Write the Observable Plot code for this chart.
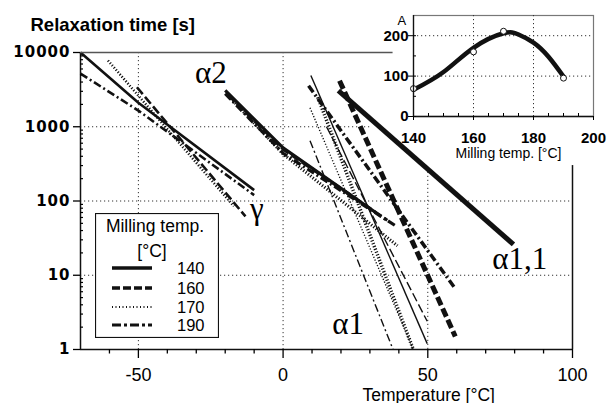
<!DOCTYPE html>
<html><head><meta charset="utf-8">
<script src="https://cdn.jsdelivr.net/npm/d3@7"></script>
<script src="https://cdn.jsdelivr.net/npm/@observablehq/plot@0.6"></script>
<style>
body{margin:0;background:#fff;}
#wrap{position:relative;width:608px;height:403px;overflow:hidden;font-family:Arial,"Liberation Sans",sans-serif;background:#fff;}
#main,#inset,#legend{position:absolute;}
#main{left:0;top:0;}
#inset{left:380px;top:0;}
#legend{left:95px;top:213px;}
#main g[aria-label="y-axis tick label"]{letter-spacing:1px;}
</style></head><body>
<div id="wrap"><div id="main"></div><div id="inset"></div><div id="legend"></div></div>
<script>
// ---- main chart data: [temperature °C, relaxation time s] ----
const gamma140 = [[-70,10000],[-50,2100],[-10,140]];
const gamma160 = [[-50.5,3400],[-13,62]];
const gamma170 = [[-60.5,7800],[-17,85]];
const gamma190 = [[-70,5200],[-50,1650],[-10,120]];

const alpha2_140 = [[-20,3100],[0,520],[32,70]];
const alpha2_160 = [[-19,2700],[0,500],[36,55]];
const alpha2_170 = [[-18,2400],[0,430],[39.5,25]];
const alpha2_190 = [[-20,2800],[0,440],[39,46]];

const alpha1_140 = [[9.6,4900],[49.8,1.2]];
const alpha1_160 = [[15,1000],[49.8,2.4]];
const alpha1_170 = [[9.3,1800],[45,1]];
const alpha1_190 = [[9.3,650],[38,1]];

const alpha11_140 = [[19.1,3060],[79.6,26]];
const alpha11_160 = [[19.5,4170],[59.5,1.5]];
const alpha11_170 = [[12,2500],[45,1]];
const alpha11_190 = [[8.8,3560],[59.5,6.6]];

const labelText = ["α2","γ","α1","α1,1"];
const labelT = [-30.4,-11.4,17,72.3];
const labelTau = [3940,57,1.64,12];

const xTicks = [-50,0,50,100];
const yTicks = [1,10,100,1000,10000];

// ---- inset data ----
const insetMilling = [140,160,170,190];
const insetA = [69,160,211,95];
const curveMilling = [140,150,160,170,175,180,185,190];
const curveA = [66,110,170,206,203,183,148,99];
const insetXTicks = [140,160,180,200];
const insetYTicks = [0,100,200];

// ---- legend ----
const legendTemps = ["140","160","170","190"];

// ---- styles ----
const dashOf = {"140": null, "160": "9,3.5", "170": "1.2,1.8", "190": "8,3,2,3"};
const ink = "#111";

const xMinor = d3.range(-60, 100, 10).filter(v => v % 50 !== 0);
const yMinor = [];
for (const dec of [1,10,100,1000]) for (let k = 2; k <= 9; k++) yMinor.push(dec*k);

function ln(data, temp, w) {
  const o = {x: d => d[0], y: d => d[1], stroke: ink, strokeWidth: w, strokeLinecap: "butt", strokeLinejoin: "round"};
  if (dashOf[temp]) o.strokeDasharray = dashOf[temp];
  return Plot.line(data, o);
}
const dotted = {stroke: "#333", strokeWidth: 1, strokeDasharray: "1.2,2.8"};

const main = Plot.plot({
  width: 608, height: 403,
  marginLeft: 80, marginRight: 36, marginTop: 52, marginBottom: 54,
  style: {background: "transparent", fontFamily: "Arial, 'Liberation Sans', sans-serif", overflow: "visible"},
  x: {domain: [-70, 100]},
  y: {type: "log", domain: [1, 10000]},
  marks: [
    Plot.ruleX([-50, 0], {...dotted}),
    Plot.ruleX([50], {...dotted, y1: 1, y2: 300}),
    Plot.ruleY([10, 100], {...dotted, x1: -70, x2: 100}),
    Plot.ruleY([1000], {...dotted, x1: -70, x2: 30}),

    ln(gamma140, "140", 2.6), ln(gamma160, "160", 2.6), ln(gamma170, "170", 2.6), ln(gamma190, "190", 2.6),
    ln(alpha2_140, "140", 3.2), ln(alpha2_160, "160", 3.2), ln(alpha2_170, "170", 3.2), ln(alpha2_190, "190", 3.2),
    ln(alpha1_140, "140", 1.4), ln(alpha1_160, "160", 1.4), ln(alpha1_170, "170", 1.4), ln(alpha1_190, "190", 1.4),
    ln(alpha11_140, "140", 5), ln(alpha11_160, "160", 5), ln(alpha11_170, "170", 3.5), ln(alpha11_190, "190", 3.5),

    Plot.text(labelText, {x: (d,i) => labelT[i], y: (d,i) => labelTau[i], text: d => d,
      textAnchor: "start", lineAnchor: "bottom", fontSize: 31, fontFamily: "'Liberation Serif', 'Times New Roman', serif"}),

    Plot.ruleX([-70], {stroke: ink, strokeWidth: 1.5}),
    Plot.ruleY([1], {stroke: ink, strokeWidth: 1.5}),
    Plot.ruleY([10000], {x1: -70, x2: 38, stroke: "#555", strokeWidth: 1.5}),
    Plot.ruleX([100], {y1: 1, y2: 300, stroke: ink, strokeWidth: 1.5}),

    Plot.axisX({ticks: xTicks, tickSize: 9, tickPadding: 10, fontSize: 18, tickFormat: d => String(d), label: null, strokeWidth: 1.3}),
    Plot.axisX(xMinor, {tickSize: 4.5, tickFormat: () => "", label: null, strokeWidth: 1.3}),
    Plot.axisY({ticks: yTicks, tickSize: 7, tickPadding: 3, fontSize: 15, fontWeight: "bold",
      fontFamily: "'DejaVu Sans', sans-serif", tickFormat: d => String(d), label: null, strokeWidth: 1.3}),
    Plot.axisY(yMinor, {tickSize: 3, dx: 3, tickFormat: () => "", label: null, strokeWidth: 1.2}),

    Plot.text(["Relaxation time [s]"], {frameAnchor: "top-left", text: d => d, dx: -50, dy: -22,
      textAnchor: "start", lineAnchor: "bottom", fontSize: 18.5, fontWeight: "bold"}),
    Plot.text(["Temperature [°C]"], {frameAnchor: "bottom-left", text: d => d, dx: 282, dy: 51,
      textAnchor: "start", lineAnchor: "bottom", fontSize: 17.5})
  ]
});
document.getElementById("main").appendChild(main);

// ---- inset ----
const inset = Plot.plot({
  width: 228, height: 160,
  marginLeft: 33, marginRight: 15, marginTop: 15, marginBottom: 44,
  style: {background: "transparent", fontFamily: "Arial, 'Liberation Sans', sans-serif", overflow: "visible"},
  x: {domain: [140, 200]},
  y: {domain: [0, 250]},
  marks: [
    Plot.frame({fill: "white", stroke: "#777", strokeWidth: 1.2}),
    Plot.ruleX([160, 180], {...dotted}),
    Plot.ruleY([100, 200], {...dotted}),
    Plot.line(curveMilling, {x: d => d, y: (d,i) => curveA[i], curve: "natural", stroke: ink, strokeWidth: 4.5}),
    Plot.dot(insetMilling, {x: d => d, y: (d,i) => insetA[i], r: 3, fill: "white", stroke: ink, strokeWidth: 1}),
    Plot.ruleX([140], {stroke: ink, strokeWidth: 1.3}),
    Plot.ruleY([0], {stroke: ink, strokeWidth: 1.3}),
    Plot.axisX({ticks: insetXTicks, tickSize: 4, tickPadding: 12, fontSize: 15, fontWeight: "bold", tickFormat: d => String(d), label: null}),
    Plot.axisX([145,150,155,165,170,175,185,190,195], {tickSize: 3, dy: -3, tickFormat: () => "", label: null}),
    Plot.axisY({ticks: insetYTicks, tickSize: 8, dx: 3, tickPadding: 0, fontSize: 15, fontWeight: "bold", tickFormat: d => String(d), label: null}),
    Plot.axisY([50,150], {tickSize: 3, dx: 3, tickFormat: () => "", label: null}),
    Plot.text(["A"], {frameAnchor: "top-left", text: d => d, dx: -16, dy: 9, textAnchor: "start", lineAnchor: "bottom", fontSize: 13}),
    Plot.text(["Milling temp. [°C]"], {frameAnchor: "bottom", text: d => d, dx: 5, dy: 41, lineAnchor: "bottom", fontSize: 14})
  ]
});
document.getElementById("inset").appendChild(inset);

// ---- legend (HTML/SVG box) ----
const lg = d3.select("#legend").append("svg").attr("width", 124).attr("height", 125);
lg.append("rect").attr("x", 0.5).attr("y", 0.5).attr("width", 123).attr("height", 124)
  .attr("fill", "white").attr("stroke", ink).attr("stroke-width", 1.2);
lg.append("text").attr("x", 60).attr("y", 19).attr("text-anchor", "middle")
  .attr("font-family", "Arial, 'Liberation Sans', sans-serif").attr("font-size", 17.5).text("Milling temp.");
lg.append("text").attr("x", 57).attr("y", 44).attr("text-anchor", "middle")
  .attr("font-family", "Arial, 'Liberation Sans', sans-serif").attr("font-size", 17.5).text("[°C]");
const legendWidth = {"140": 3.5, "160": 3.5, "170": 2, "190": 3};
const legendDash = {"140": null, "160": "8,3", "170": "1,2.5", "190": "9,3,3,3"};
legendTemps.forEach((t, i) => {
  const y = [55, 75, 94, 112][i];
  const l = lg.append("line").attr("x1", 17).attr("x2", 57).attr("y1", y).attr("y2", y)
    .attr("stroke", ink).attr("stroke-width", legendWidth[t]);
  if (legendDash[t]) l.attr("stroke-dasharray", legendDash[t]);
  lg.append("text").attr("x", 82).attr("y", y + 6)
    .attr("font-family", "Arial, 'Liberation Sans', sans-serif").attr("font-size", 16.5).text(t);
});
</script>
</body></html>
